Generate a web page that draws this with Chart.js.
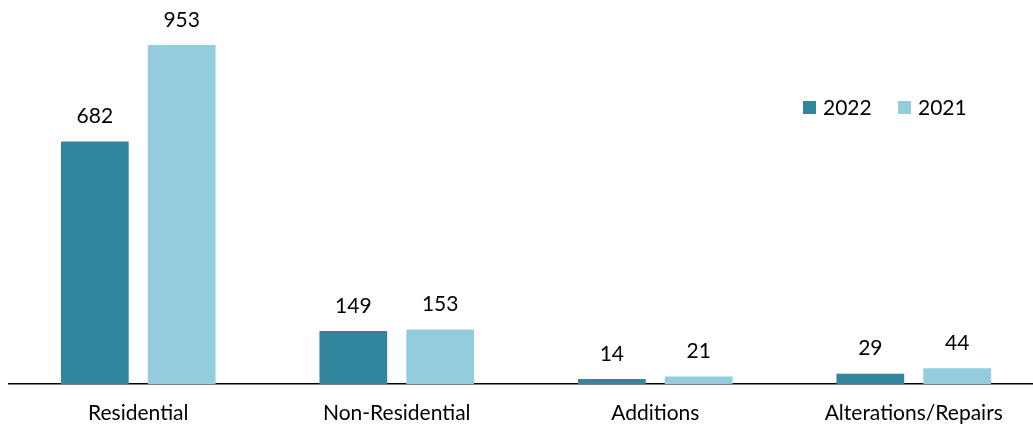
<!DOCTYPE html>
<html>
<head>
<meta charset="utf-8">
<script src="https://cdn.jsdelivr.net/npm/chart.js@4/dist/chart.umd.min.js"></script>
<style>
html,body{margin:0;padding:0;background:#fff;overflow:hidden;}
#wrap{width:1033px;height:427px;overflow:hidden;position:relative;}
#box{width:1045px;height:427px;position:absolute;left:0;top:0;}
</style>
</head>
<body>
<div id="wrap"><div id="box"><canvas id="c"></canvas></div></div>
<script>
const categories = ["Residential", "Non-Residential", "Additions", "Alterations/Repairs"];
const series2022 = [682, 149, 14, 29];
const series2021 = [953, 153, 21, 44];
const seriesNames = ["2022", "2021"];
const colors = ["#31859C", "#93CDDD"];
const FONT = "Lato, 'Liberation Sans', sans-serif";
const FS = 21;

const labelPlugin = {
  id: 'labels',
  afterDatasetsDraw(chart) {
    const ctx = chart.ctx;
    ctx.save();
    ctx.font = FS + "px " + FONT;
    ctx.fillStyle = "#000";
    ctx.textAlign = "center";
    ctx.textBaseline = "middle";
    chart.data.datasets.forEach((ds, di) => {
      const meta = chart.getDatasetMeta(di);
      meta.data.forEach((bar, i) => {
        ctx.fillText(String(ds.data[i]), bar.x, bar.y - 25);
      });
    });
    const items = [{x: 803}, {x: 898}];
    chart.data.datasets.forEach((ds, di) => {
      const x = items[di].x;
      ctx.fillStyle = ds.backgroundColor;
      ctx.fillRect(x, 101, 13, 13);
      ctx.fillStyle = "#000";
      ctx.textAlign = "left";
      ctx.fillText(ds.label, x + 20, 108);
    });
    ctx.restore();
  }
};

new Chart(document.getElementById('c'), {
  type: 'bar',
  data: {
    labels: categories,
    datasets: [
      {label: seriesNames[0], data: series2022, backgroundColor: colors[0]},
      {label: seriesNames[1], data: series2021, backgroundColor: colors[1]}
    ]
  },
  options: {
    responsive: true,
    maintainAspectRatio: false,
    animation: false,
    layout: {padding: {top: 45, left: 9, right: 2, bottom: 0}},
    datasets: {bar: {categoryPercentage: 0.672, barPercentage: 0.78}},
    plugins: {legend: {display: false}, tooltip: {enabled: false}},
    scales: {
      y: {display: false, min: 0, max: 953},
      x: {
        afterFit(scale) { scale.height = 43; },
        grid: {display: false, drawTicks: false},
        border: {display: true, color: "#000", width: 1.5},
        ticks: {color: "#000", font: {family: FONT, size: FS}, padding: 17, maxRotation: 0}
      }
    }
  },
  plugins: [labelPlugin]
});
</script>
</body>
</html>
